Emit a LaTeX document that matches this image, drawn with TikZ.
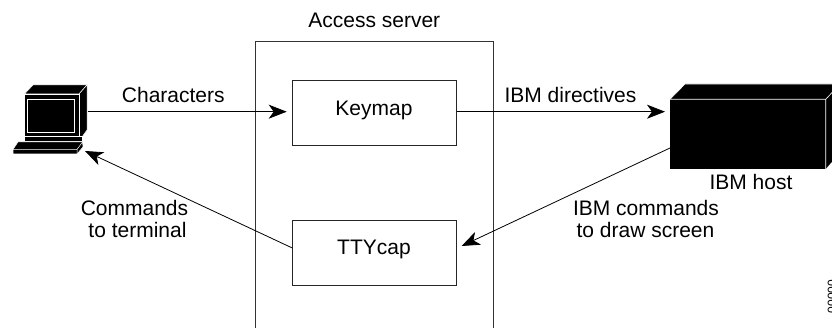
\documentclass[tikz,border=0pt]{standalone}
\usepackage{fontspec}
\setmainfont{Liberation Sans}
\usetikzlibrary{arrows.meta}
\begin{document}
\begin{tikzpicture}[x=1pt,y=-1pt,
  lbl/.style={font=\fontsize{21}{21}\selectfont,inner sep=0pt,anchor=base},
  procbox/.style={draw=black!85,line width=0.8pt,fill=white,minimum width=164.4pt,minimum height=64.2pt,inner sep=0pt},
  conn/.style={draw=black,line width=0.8pt},
  tip/.style={-{Stealth[length=18pt,width=14pt,inset=5pt]}},
  edge3d/.style={fill=black,draw=white,line width=0.5pt,line join=round}]
\useasboundingbox (0,0) rectangle (832,328);
\begin{scope}
\clip (0,0) rectangle (832,328);
\draw[draw=black!80,line width=0.8pt] (255.2,329) -- (255.2,41) -- (493.3,41) -- (493.3,329);
\node[rotate=90,font=\fontsize{12}{12}\selectfont,inner sep=0pt] (fig) at (832,296.5) {00000};
\end{scope}
\node[lbl] (srv) at (374.3,27.5) {Access server};
\node[procbox] (keymap) at (374.5,113) {};
\node[procbox] (ttycap) at (374.5,253) {};
\node[lbl] (keymapt) at (374,116) {Keymap};
\node[lbl] (ttycapt) at (374,255) {TTYcap};
% terminal
\draw[edge3d] (24.5,94) -- (33,85) -- (87,85) -- (79,94) -- cycle;
\draw[edge3d] (79,94) -- (87,85) -- (87,130) -- (82,137) -- (79,137) -- cycle;
\draw[edge3d] (24.5,94) rectangle (79,136.5);
\draw[white,line width=0.6pt] (27.7,99.3) rectangle (74.3,132);
\draw[edge3d] (24.5,136.5) rectangle (82,141);
\draw[edge3d] (18,142) -- (82.5,142) -- (83,147) -- (77,154) -- (13,154) -- (13,149.5) -- cycle;
\draw[white,line width=0.5pt] (13,149.5) -- (77,149.5) -- (82.5,142) (77,149.5) -- (77,154);
\coordinate (termE) at (88,111.7);
\coordinate (termS) at (85,151);
% host
\fill[black] (670,99.3) -- (685,84) -- (832,84) -- (832,161.7) -- (825.7,169) -- (670,169) -- cycle;
\draw[white,line width=0.6pt] (670,99.3) -- (825.7,99.3) -- (825.7,169) (825.7,99.3) -- (833,91.5) (670,99.3) -- (685,84) -- (832,84);
\coordinate (hostW) at (665,111.7);
\coordinate (hostSW) at (670,148);
\coordinate (keyIn) at (286.7,111.7);
\coordinate (ttyIn) at (461.7,246);
\coordinate (ttyW) at (292.3,248);
% connectors
\draw[conn,tip] (termE) -- (keyIn);
\draw[conn,tip] (keymap.east |- termE) -- (hostW);
\draw[conn,tip] (hostSW) -- (ttyIn);
\draw[conn,tip] (ttyW) -- (termS);
% labels
\node[lbl] (l1) at (173.3,102.7) {Characters};
\node[lbl] (l2) at (570.5,102.7) {IBM directives};
\node[lbl] (l3) at (751,190) {IBM host};
\node[lbl] (l4) at (646,216) {IBM commands};
\node[lbl] (l5) at (645.5,237.5) {to draw screen};
\node[lbl] (l6) at (134.5,215.7) {Commands};
\node[lbl] (l7) at (137.5,237.3) {to terminal};
\end{tikzpicture}
\end{document}
